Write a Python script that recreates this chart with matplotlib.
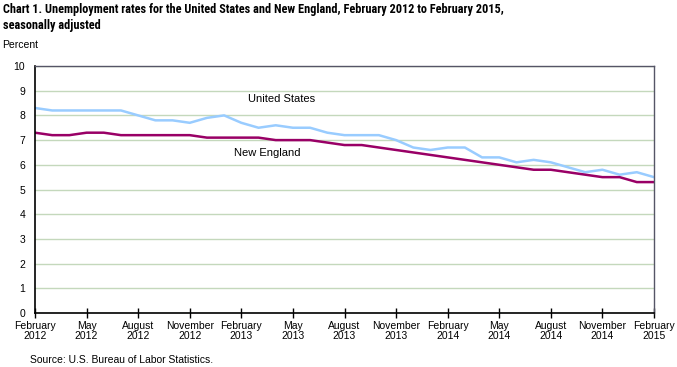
import matplotlib
matplotlib.use("Agg")
import matplotlib.pyplot as plt
from matplotlib import font_manager
import numpy as np

plt.rcParams['font.family'] = ['Liberation Sans', 'DejaVu Sans']

# monthly, February 2012 .. February 2015
us_rate = [8.3, 8.2, 8.2, 8.2, 8.2, 8.2, 8.0, 7.8, 7.8, 7.7, 7.9, 8.0,
           7.7, 7.5, 7.6, 7.5, 7.5, 7.3, 7.2, 7.2, 7.2, 7.0, 6.7, 6.6,
           6.7, 6.7, 6.3, 6.3, 6.1, 6.2, 6.1, 5.9, 5.7, 5.8, 5.6, 5.7,
           5.5]
ne_rate = [7.3, 7.2, 7.2, 7.3, 7.3, 7.2, 7.2, 7.2, 7.2, 7.2, 7.1, 7.1,
           7.1, 7.1, 7.0, 7.0, 7.0, 6.9, 6.8, 6.8, 6.7, 6.6, 6.5, 6.4,
           6.3, 6.2, 6.1, 6.0, 5.9, 5.8, 5.8, 5.7, 5.6, 5.5, 5.5, 5.3,
           5.3]
tick_labels = ['February\n2012', 'May\n2012', 'August\n2012', 'November\n2012',
               'February\n2013', 'May\n2013', 'August\n2013', 'November\n2013',
               'February\n2014', 'May\n2014', 'August\n2014', 'November\n2014',
               'February\n2015']

x = np.arange(len(us_rate))

# narrow bold face for the title, like the original
names = {f.name for f in font_manager.fontManager.ttflist}
narrow = [n for n in ['Liberation Sans Narrow', 'Arial Narrow', 'Roboto Condensed',
                      'PT Sans Narrow', 'Archivo Narrow', 'Asap Condensed']
          if n in names]
title_family = narrow[:1] + ['Liberation Sans']

fig = plt.figure(figsize=(6.77, 3.67), dpi=100)
ax = fig.add_axes([35 / 677, 1 - 313 / 367, 619 / 677, 247 / 367])

ax.plot(x, us_rate, color='#99ccff', linewidth=1.8, solid_joinstyle='round')
ax.plot(x, ne_rate, color='#990066', linewidth=1.8, solid_joinstyle='round')

ax.set_xlim(0, len(x) - 1)
ax.set_ylim(0, 10)
ax.set_yticks(range(0, 11))
ax.set_xticks(x[::3])
ax.set_xticklabels(tick_labels, fontsize=7.5, linespacing=1.0)
ax.tick_params(axis='x', direction='inout', length=7, width=1, pad=2, color='black')
ax.tick_params(axis='y', direction='out', length=3, width=0, labelsize=7.5, pad=4)

ax.grid(axis='y', color='#c4d8bc', linewidth=1)
ax.set_axisbelow(True)
for side in ['top', 'right']:
    ax.spines[side].set_color('#555566')
    ax.spines[side].set_linewidth(1)
for side in ['left', 'bottom']:
    ax.spines[side].set_color('black')
    ax.spines[side].set_linewidth(1.2)

ax.text(248 / 677, 1 - 99 / 367, 'United States', transform=fig.transFigure,
        fontsize=8, va='center', ha='left')
ax.text(234 / 677, 1 - 153 / 367, 'New England', transform=fig.transFigure,
        fontsize=8, va='center', ha='left')

fig.text(3 / 677, 1 - 3 / 367,
         'Chart 1. Unemployment rates for the United States and New England, February 2012 to February 2015,\nseasonally adjusted',
         family=title_family, fontsize=8.8, fontweight='bold', va='top', ha='left', linespacing=1.3)
fig.text(2 / 677, 1 - 45 / 367, 'Percent', fontsize=7.5, va='center', ha='left')
fig.text(30 / 677, 1 - 360 / 367, 'Source: U.S. Bureau of Labor Statistics.', fontsize=7.5, va='center', ha='left')

fig.savefig('out.png', dpi=100)
